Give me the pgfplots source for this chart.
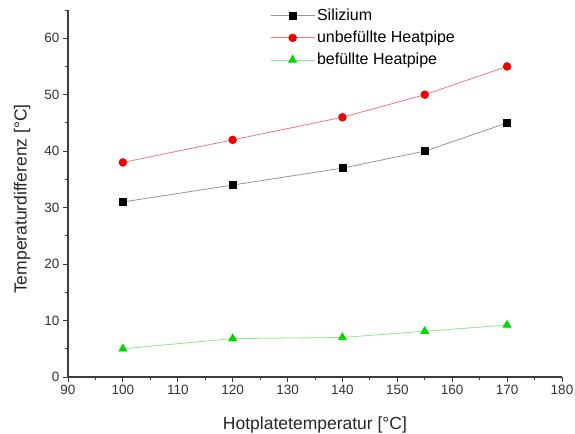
\documentclass[border=0pt]{standalone}
\usepackage{pgfplots}
\pgfplotsset{compat=1.18}
\usetikzlibrary{calc}
\usepackage{fontspec}
\setmainfont{Liberation Sans}
\definecolor{axgray}{RGB}{60,60,60}
\definecolor{silline}{RGB}{150,150,150}
\definecolor{redline}{RGB}{240,120,120}
\definecolor{redmark}{RGB}{240,0,0}
\definecolor{greenline}{RGB}{140,230,140}
\definecolor{greenmark}{RGB}{0,215,0}
\begin{document}
\begin{tikzpicture}
\begin{axis}[
  scale only axis,
  width=494bp, height=367bp,
  xmin=90, xmax=180, ymin=0, ymax=65,
  axis lines*=left,
  axis line style={axgray, line width=1.2bp},
  xtick={90,100,...,180}, ytick={0,10,...,60},
  minor xtick={95,105,...,175}, minor ytick={5,15,...,65},
  tick align=outside,
  major tick length=5bp, minor tick length=3bp,
  tick style={axgray, line width=1bp},
  /pgf/number format/assume math mode=true,
  ticklabel style={font=\fontsize{13.5bp}{15bp}\selectfont, color=black!80},
  xlabel={Hotplatetemperatur [°C]},
  ylabel={Temperaturdifferenz [°C]},
  every axis x label/.style={at={(axis description cs:0.5,-0.13)}, anchor=center,
    font=\fontsize{17.5bp}{20bp}\selectfont, color=black!85},
  every axis y label/.style={at={(axis description cs:-0.0931,0.485)}, anchor=center, rotate=90,
    font=\fontsize{17.5bp}{20bp}\selectfont, color=black!85},
  legend style={at={(0.409,1.008)}, anchor=north west, draw=none, fill=none,
    inner sep=0pt,
    font=\fontsize{16bp}{18bp}\selectfont, row sep=5bp,
    /tikz/every even column/.append style={column sep=3bp},
    cells={anchor=west}},
  legend image code/.code={
    \draw[mark repeat=2, mark phase=2] plot coordinates {(0bp,0bp) (22bp,0bp) (44bp,0bp)};
  },
]
\coordinate (bl) at (rel axis cs:0,0);
\coordinate (tr) at (rel axis cs:1,1);
\addplot[silline, line width=0.8bp, mark=square*, mark size=3.5bp, mark options={black, fill=black}]
  coordinates {(100,31) (120,34) (140,37) (155,40) (170,45)};
\addlegendentry{Silizium}
\addplot[redline, line width=0.8bp, mark=*, mark size=3.8bp, mark options={redmark, fill=redmark}]
  coordinates {(100,38) (120,42) (140,46) (155,50) (170,55)};
\addlegendentry{unbefüllte Heatpipe}
\addplot[greenline, line width=0.8bp, mark=triangle*, mark size=4.5bp, mark options={greenmark, fill=greenmark}]
  coordinates {(100,5.0) (120,6.8) (140,7.0) (155,8.1) (170,9.2)};
\addlegendentry{befüllte Heatpipe}
\end{axis}
\pgfresetboundingbox
\path[use as bounding box] ($(bl)+(-68bp,-56bp)$) rectangle ($(tr)+(13bp,10bp)$);
\end{tikzpicture}
\end{document}
